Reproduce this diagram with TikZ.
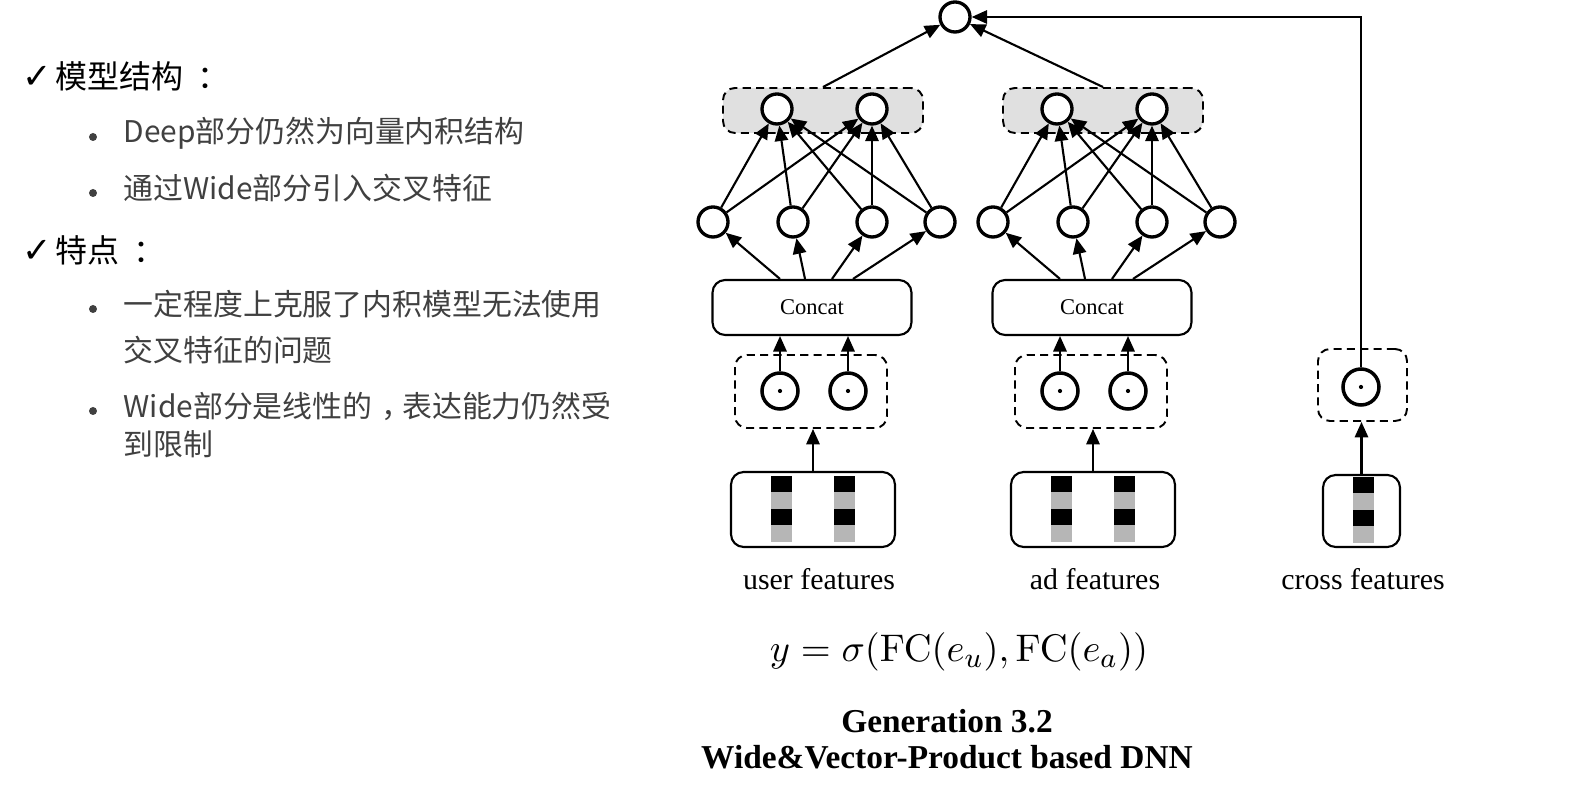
\documentclass[tikz,border=0pt]{standalone}
\usepackage[no-math]{fontspec}
\setmainfont{Liberation Serif}
\newfontfamily\cjk{Noto Sans CJK SC}
\newfontfamily\symb{DejaVu Sans}
\usetikzlibrary{arrows.meta,positioning,calc}
\definecolor{grpgray}{RGB}{224,224,224}
\definecolor{bargray}{RGB}{182,182,182}
\definecolor{txtgray}{RGB}{64,64,64}

\begin{document}
\begin{tikzpicture}[
  >={Triangle[length=4.4pt,width=3.8pt]},
  arr/.style={->, line width=0.6pt},
  neuron/.style={circle, draw, line width=0.95pt, fill=white,
                 minimum size=3mm, inner sep=0pt},
  dotnode/.style={circle, draw, line width=1pt, fill=white,
                  minimum size=3.6mm, inner sep=0pt},
  grp/.style={draw, dash pattern=on 2.3pt off 1.5pt, line width=0.55pt,
              rounded corners=3.4pt, inner sep=0pt},
  rbox/.style={draw, line width=0.6pt, rounded corners=3.6pt, inner sep=0pt},
  lbl/.style={font=\fontsize{8.5}{10}\selectfont},
  head/.style={anchor=west, inner sep=0pt, font=\fontsize{9.1}{11}\selectfont\cjk},
  item/.style={anchor=west, align=left, inner sep=0pt, text=txtgray,
               font=\fontsize{8.5}{13}\selectfont\cjk},
  bullet/.style={circle, fill=txtgray, minimum size=0.8mm, inner sep=0pt},
]
\useasboundingbox (0,0) rectangle (15.78,-7.86);

% text on the left
\node[head] (hd1) at (0.22,-0.76) {{\symb\fontsize{10}{11}\selectfont ✓}\kern1pt 模型结构\kern0.45em：};
\node[bullet] (b1) at (0.93,-1.37) {};
\node[item] (it1) at (1.23,-1.33) {Deep部分仍然为向量内积结构};
\node[bullet] (b2) at (0.93,-1.93) {};
\node[item] (it2) at (1.23,-1.88) {通过Wide部分引入交叉特征};
\node[head] (hd2) at (0.22,-2.50) {{\symb\fontsize{10}{11}\selectfont ✓}\kern1pt 特点\kern0.45em：};
\node[bullet] (b3) at (0.93,-3.09) {};
\node[item] (it3) at (1.23,-3.27) {一定程度上克服了内积模型无法使用\\交叉特征的问题};
\node[bullet] (b4) at (0.93,-4.11) {};
\node[item, font=\fontsize{8.5}{11}\selectfont\cjk] (it4) at (1.23,-4.25)
  {Wide部分是线性的\kern0.3em，\kern-0.3em 表达能力仍然受\\到限制};

% output unit
\node[neuron] (out) at (9.55,-0.17) {};

% user tower
\node[grp, fill=grpgray, minimum width=2cm, minimum height=4.5mm] (gL) at (8.23,-1.105) {};
\node[neuron] (tL1) at (7.77,-1.09) {};
\node[neuron] (tL2) at (8.72,-1.09) {};
\node[neuron] (hL1) at (7.13,-2.22) {};
\node[neuron] (hL2) at (7.93,-2.22) {};
\node[neuron] (hL3) at (8.72,-2.22) {};
\node[neuron] (hL4) at (9.40,-2.22) {};
\node[rbox, minimum width=1.99cm, minimum height=5.5mm,
      font=\fontsize{6.4}{8}\selectfont] (cL) at (8.12,-3.075) {Concat};
\node[grp, minimum width=1.52cm, minimum height=7.3mm] (pL) at (8.11,-3.915) {};
\node[dotnode] (dL1) at (7.80,-3.91) {};
\node[dotnode] (dL2) at (8.48,-3.91) {};
\node[rbox, minimum width=1.64cm, minimum height=7.5mm] (fL) at (8.13,-5.095) {};
\node[lbl] (nL) at (8.19,-5.79) {user features};

% ad tower
\node[grp, fill=grpgray, minimum width=2cm, minimum height=4.5mm] (gR) at (11.03,-1.105) {};
\node[neuron] (tR1) at (10.57,-1.09) {};
\node[neuron] (tR2) at (11.52,-1.09) {};
\node[neuron] (hR1) at (9.93,-2.22) {};
\node[neuron] (hR2) at (10.73,-2.22) {};
\node[neuron] (hR3) at (11.52,-2.22) {};
\node[neuron] (hR4) at (12.20,-2.22) {};
\node[rbox, minimum width=1.99cm, minimum height=5.5mm,
      font=\fontsize{6.4}{8}\selectfont] (cR) at (10.92,-3.075) {Concat};
\node[grp, minimum width=1.52cm, minimum height=7.3mm] (pR) at (10.91,-3.915) {};
\node[dotnode] (dR1) at (10.60,-3.91) {};
\node[dotnode] (dR2) at (11.28,-3.91) {};
\node[rbox, minimum width=1.64cm, minimum height=7.5mm] (fR) at (10.93,-5.095) {};
\node[lbl] (nR) at (10.95,-5.79) {ad features};

% wide part
\node[grp, minimum width=0.89cm, minimum height=7.2mm] (pX) at (13.625,-3.85) {};
\node[dotnode] (dX) at (13.61,-3.87) {};
\node[rbox, minimum width=0.77cm, minimum height=7.2mm] (fX) at (13.615,-5.11) {};
\node[lbl] (nX) at (13.63,-5.79) {cross features};

% product dots and one-hot bars
\foreach \d in {dL1,dL2,dR1,dR2,dX}
  \fill (\d) circle (0.6pt);
\foreach \bx/\by in {7.815/-4.76, 8.445/-4.76, 10.615/-4.76, 11.245/-4.76, 13.63/-4.77} {
  \fill[black]   (\bx-0.105,\by)       rectangle ++(0.21,-0.165);
  \fill[bargray] (\bx-0.105,\by-0.165) rectangle ++(0.21,-0.165);
  \fill[black]   (\bx-0.105,\by-0.33)  rectangle ++(0.21,-0.165);
  \fill[bargray] (\bx-0.105,\by-0.495) rectangle ++(0.21,-0.165);
}

% connections
\foreach \t in {L,R} {
  \foreach \i in {1,...,4}
    \foreach \j in {1,2}
      \draw[arr] (h\t\i) -- (t\t\j);
  \foreach \s/\i in {-0.32/1, -0.07/2, 0.20/3, 0.41/4}
    \draw[arr] ([xshift=\s cm]c\t.north) -- (h\t\i);
  \draw[arr] (d\t1) -- (d\t1 |- c\t.south);
  \draw[arr] (d\t2) -- (d\t2 |- c\t.south);
  \draw[arr] (f\t.north) -- (f\t.north |- p\t.south);
  \draw[arr] (g\t.north) -- (out);
}
\draw[arr] (fX.north) -- (fX.north |- pX.south);
\draw[arr] (dX.north) |- (out.east);

% formula and caption
\node[font=\fontsize{10.9}{12}\selectfont] (eq) at (9.59,-6.52)
  {$y=\sigma(\mathrm{FC}(e_u),\mathrm{FC}(e_a))$};
\node[align=center, font=\fontsize{9.5}{10.25}\selectfont\bfseries] (ttl) at (9.47,-7.395)
  {Generation 3.2\\Wide\&Vector-Product based DNN};
\end{tikzpicture}
\end{document}
